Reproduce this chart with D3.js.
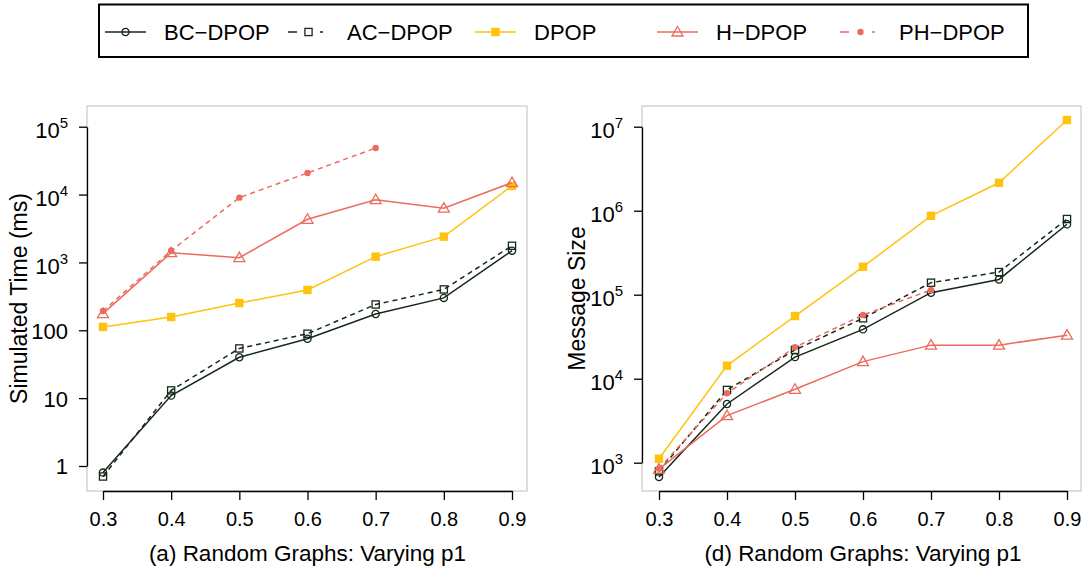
<!DOCTYPE html>
<html lang="en">
<head>
  <meta charset="UTF-8">
  <title>DPOP variants</title>
  <style>
    body{ margin:0; background:#fff; }
    svg{ font-family: "Liberation Sans", Arial, Helvetica, sans-serif; }
  </style>
</head>
<body>
<svg width="1085" height="574"></svg>

<script src="https://cdn.jsdelivr.net/npm/d3@7"></script>
<script>
  // data
  var pValues = [0.3, 0.4, 0.5, 0.6, 0.7, 0.8, 0.9];

  // (a) simulated time (ms)
  var timeBC   = [0.8, 10.9, 40, 75, 174, 300, 1490];
  var timeAC   = [0.7, 13, 54, 89, 240, 400, 1760];
  var timeDPOP = [112, 157, 252, 393, 1215, 2400, 13400];
  var timeH    = [176, 1390, 1175, 4320, 8400, 6300, 15000];
  var timePH   = [192, 1490, 9000, 20800, 48500];

  // (d) message size
  var msgBC   = [676, 5000, 18100, 38700, 105700, 152000, 689000];
  var msgAC   = [790, 7350, 22000, 52400, 139000, 186000, 796000];
  var msgDPOP = [1115, 14300, 55700, 215000, 870000, 2150000, 12000000];
  var msgH    = [840, 3630, 7480, 15960, 25100, 25100, 33000];
  var msgPH   = [850, 6700, 23700, 57300, 114000];

  var timeTicks = [1, 10, 100, 1e3, 1e4, 1e5];
  var msgTicks  = [1e3, 1e4, 1e5, 1e6, 1e7];

  var seriesNames = ['BC\u2212DPOP', 'AC\u2212DPOP', 'DPOP', 'H\u2212DPOP', 'PH\u2212DPOP'];

  // styling per series
  var dark = '#14291a', gold = '#ffc20e', salmon = '#ec6b5c';
  var styles = [
    {color: dark,   dash: null,  marker: 'circle'},
    {color: dark,   dash: '5,4', marker: 'square'},
    {color: gold,   dash: null,  marker: 'fsquare'},
    {color: salmon, dash: null,  marker: 'triangle'},
    {color: salmon, dash: '5,4', marker: 'dot'}
  ];

  var svg = d3.select('svg');
  svg.append('rect').attr('width', 1085).attr('height', 574).attr('fill', '#fff');

  function drawMarker(g, type, color) {
    if (type === 'circle') {
      g.append('circle').attr('r', 3.6).attr('fill', 'none').attr('stroke', color).attr('stroke-width', 1.3);
    } else if (type === 'square') {
      g.append('rect').attr('x', -3.6).attr('y', -3.6).attr('width', 7.2).attr('height', 7.2)
        .attr('fill', 'none').attr('stroke', color).attr('stroke-width', 1.3);
    } else if (type === 'fsquare') {
      g.append('rect').attr('x', -4.2).attr('y', -4.2).attr('width', 8.4).attr('height', 8.4).attr('fill', color);
    } else if (type === 'triangle') {
      g.append('path').attr('d', 'M0,-5.5L5.5,4L-5.5,4Z')
        .attr('fill', 'none').attr('stroke', color).attr('stroke-width', 1.3);
    } else {
      g.append('circle').attr('r', 3.2).attr('fill', color);
    }
  }

  function supLabels(axisG) {
    axisG.selectAll('.tick text').each(function (d) {
      var t = d3.select(this).text(null);
      if (d < 1000) {
        t.attr('dy', '0.36em').text(d);
      } else {
        t.attr('dy', '0.5em');
        t.append('tspan').text('10');
        t.append('tspan').attr('dy', -10).attr('font-size', '15px').text(Math.round(Math.log10(d)));
      }
    });
  }

  function panel(opt) {
    var x = d3.scaleLinear().domain([0.3, 0.9]).range(opt.xr);
    var y = d3.scaleLog().domain(opt.yd).range(opt.yr);
    var g = svg.append('g');

    // plot box
    g.append('rect').attr('x', opt.box[0]).attr('y', opt.box[1])
      .attr('width', opt.box[2] - opt.box[0]).attr('height', opt.box[3] - opt.box[1])
      .attr('fill', 'none').attr('stroke', '#c8c8c8').attr('stroke-width', 1.2);

    var xa = g.append('g').attr('transform', 'translate(0,' + opt.box[3] + ')')
      .call(d3.axisBottom(x).tickValues(pValues).tickFormat(d3.format('.1f'))
        .tickSize(9).tickSizeOuter(0).tickPadding(12));
    xa.selectAll('text').attr('font-size', '20px').attr('fill', '#000');

    var ya = g.append('g').attr('transform', 'translate(' + opt.box[0] + ',0)')
      .call(d3.axisLeft(y).tickValues(opt.ticks).tickSize(8).tickSizeOuter(0).tickPadding(11));
    ya.selectAll('text').attr('font-size', '22px').attr('fill', '#000');
    supLabels(ya);
    g.selectAll('.domain, .tick line').attr('stroke', '#000').attr('stroke-width', 1.3);

    var line = d3.line().x(function (d, i) { return x(pValues[i]); }).y(function (d) { return y(d); });

    opt.series.forEach(function (vals, k) {
      var st = styles[k];
      g.append('path').datum(vals).attr('d', line)
        .attr('fill', 'none').attr('stroke', st.color).attr('stroke-width', 1.5)
        .attr('stroke-dasharray', st.dash);
      vals.forEach(function (v, i) {
        var m = g.append('g').attr('transform', 'translate(' + x(pValues[i]) + ',' + y(v) + ')');
        drawMarker(m, st.marker, st.color);
      });
    });

    g.append('text').attr('transform', 'translate(' + opt.ylabX + ',' + ((opt.box[1] + opt.box[3]) / 2) + ') rotate(-90)')
      .attr('text-anchor', 'middle').attr('font-size', '23px').text(opt.ylabel);
    g.append('text').attr('x', (opt.xr[0] + opt.xr[1]) / 2).attr('y', 561)
      .attr('text-anchor', 'middle').attr('font-size', '22.5px').text(opt.xlabel);
  }

  panel({
    box: [87, 106, 527, 491], xr: [103, 512], yd: [1, 1e5], yr: [466, 126.7],
    ticks: timeTicks, series: [timeBC, timeAC, timeDPOP, timeH, timePH],
    ylabel: 'Simulated Time (ms)', ylabX: 27, xlabel: '(a) Random Graphs: Varying p1'
  });
  panel({
    box: [642, 106, 1081, 491], xr: [659, 1067], yd: [1e3, 1e7], yr: [462.7, 126.7],
    ticks: msgTicks, series: [msgBC, msgAC, msgDPOP, msgH, msgPH],
    ylabel: 'Message Size', ylabX: 585, xlabel: '(d) Random Graphs: Varying p1'
  });

  // legend
  var lg = svg.append('g');
  lg.append('rect').attr('x', 99).attr('y', 4.5).attr('width', 929).attr('height', 52.5)
    .attr('fill', 'none').attr('stroke', '#000').attr('stroke-width', 2);
  var legX = [105, 288, 475, 657, 840];
  seriesNames.forEach(function (name, k) {
    var st = styles[k], item = lg.append('g').attr('transform', 'translate(' + legX[k] + ',32)');
    item.append('line').attr('x1', 0).attr('x2', 41).attr('stroke', st.color).attr('stroke-width', 1.5)
      .attr('stroke-dasharray', st.dash ? '9,23,3,20' : null);
    drawMarker(item.append('g').attr('transform', 'translate(20.5,0)'), st.marker, st.color);
    item.append('text').attr('x', 59).attr('y', 8).attr('font-size', '22px').text(name);
  });
</script>
</body>
</html>
